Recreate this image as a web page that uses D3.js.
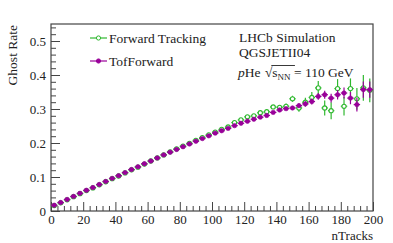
<!DOCTYPE html>
<html>
<head>
<meta charset="utf-8">
<script src="https://cdn.jsdelivr.net/npm/d3@7"></script>
<style>
  body { margin: 0; background: #fff; }
  text { font-family: "Liberation Serif", "DejaVu Serif", serif; fill: #222; }
</style>
</head>
<body>
<div id="chart"></div>
<script>
// bin centres (4 tracks wide)
const nTracks = d3.range(50).map(i => 2 + 4 * i);

const tofForward = [
  0.017, 0.025, 0.034, 0.043, 0.052, 0.061, 0.069, 0.078, 0.087, 0.096,
  0.104, 0.113, 0.122, 0.130, 0.139, 0.147, 0.156, 0.165, 0.173, 0.181,
  0.189, 0.197, 0.205, 0.213, 0.221, 0.229, 0.236, 0.243, 0.251, 0.258,
  0.264, 0.270, 0.276, 0.281, 0.290, 0.297, 0.301, 0.303, 0.310, 0.315,
  0.322, 0.337, 0.342, 0.332, 0.342, 0.347, 0.332, 0.313, 0.357, 0.357
];
const tofForwardErr = [
  0.002, 0.002, 0.002, 0.002, 0.002, 0.002, 0.002, 0.002, 0.002, 0.002,
  0.002, 0.002, 0.002, 0.002, 0.002, 0.002, 0.002, 0.002, 0.002, 0.002,
  0.002, 0.002, 0.002, 0.002, 0.002, 0.003, 0.003, 0.003, 0.003, 0.003,
  0.003, 0.003, 0.004, 0.004, 0.004, 0.005, 0.005, 0.006, 0.007, 0.008,
  0.009, 0.010, 0.012, 0.013, 0.014, 0.016, 0.018, 0.020, 0.024, 0.024
];

const forwardTracking = [
  0.016, 0.024, 0.033, 0.042, 0.051, 0.060, 0.068, 0.077, 0.086, 0.095,
  0.103, 0.112, 0.121, 0.129, 0.138, 0.147, 0.156, 0.165, 0.174, 0.183,
  0.191, 0.199, 0.208, 0.216, 0.224, 0.232, 0.240, 0.247, 0.260, 0.268,
  0.277, 0.280, 0.289, 0.292, 0.306, 0.305, 0.308, 0.330, 0.303, 0.320,
  0.334, 0.362, 0.303, 0.295, 0.360, 0.308, 0.360, 0.330, 0.362, 0.355
];
const forwardTrackingErr = [
  0.002, 0.002, 0.002, 0.002, 0.002, 0.002, 0.002, 0.002, 0.002, 0.002,
  0.002, 0.002, 0.002, 0.002, 0.002, 0.002, 0.002, 0.002, 0.002, 0.002,
  0.002, 0.002, 0.003, 0.003, 0.003, 0.003, 0.003, 0.004, 0.004, 0.004,
  0.004, 0.005, 0.005, 0.006, 0.006, 0.007, 0.008, 0.009, 0.011, 0.013,
  0.016, 0.020, 0.022, 0.025, 0.028, 0.027, 0.030, 0.032, 0.038, 0.035
];

const xTicks = [0, 20, 40, 60, 80, 100, 120, 140, 160, 180, 200];
const yTicks = [0, 0.1, 0.2, 0.3, 0.4, 0.5];

const series = [
  { name: "Forward Tracking", values: forwardTracking, err: forwardTrackingErr, color: "#2fb82f", open: true },
  { name: "TofForward", values: tofForward, err: tofForwardErr, color: "#990099", open: false }
];

const width = 393, height = 243;
const margin = { left: 51, right: 20, top: 24, bottom: 32 };
const svg = d3.select("#chart").append("svg").attr("width", width).attr("height", height);

const x = d3.scaleLinear().domain([0, 200]).range([margin.left, width - margin.right]);
const y = d3.scaleLinear().domain([0, 0.55]).range([height - margin.bottom, margin.top]);

// frame
svg.append("rect")
  .attr("x", x(0)).attr("y", y(0.55))
  .attr("width", x(200) - x(0)).attr("height", y(0) - y(0.55))
  .attr("fill", "none").attr("stroke", "#444").attr("stroke-width", 1.2);

// axes with inward ticks, ROOT style
const xMinor = d3.range(0, 201, 4).filter(v => v % 20 !== 0);
const yMinor = d3.range(0, 0.551, 0.02).filter(v => Math.abs(v * 10 - Math.round(v * 10)) > 1e-6);

const AxisX = svg.append("g").attr("transform", `translate(0,${y(0)})`);
AxisX.call(d3.axisBottom(x).tickValues(xTicks).tickSize(-9).tickPadding(4).tickFormat(d3.format("d")));
AxisX.append("g").call(d3.axisBottom(x).tickValues(xMinor).tickSize(-5).tickFormat(""));

const AxisY = svg.append("g").attr("transform", `translate(${x(0)},0)`);
AxisY.call(d3.axisLeft(y).tickValues(yTicks).tickSize(-9).tickPadding(5).tickFormat(d => d === 0 ? "0" : d3.format(".1f")(d)));
AxisY.append("g").call(d3.axisLeft(y).tickValues(yMinor).tickSize(-5).tickFormat(""));

svg.selectAll(".domain").remove();
svg.selectAll("g").attr("font-family", "'Liberation Serif', serif");
svg.selectAll(".tick line").attr("stroke", "#444").attr("stroke-width", 1);
svg.selectAll(".tick text")
  .style("font-family", "'Liberation Serif', serif")
  .style("font-size", "13px").attr("fill", "#222");

// axis titles
svg.append("text")
  .attr("x", x(200)).attr("y", 239.5)
  .attr("text-anchor", "end").style("font-size", "13px")
  .text("nTracks");
svg.append("text")
  .attr("transform", `translate(17,${margin.top + 1}) rotate(-90)`)
  .attr("text-anchor", "end").style("font-size", "13.5px")
  .text("Ghost Rate");

// data points with error bars
series.forEach(s => {
  const g = svg.append("g");
  const pts = nTracks.map((n, i) => ({ n, v: s.values[i], e: s.err[i] }));
  g.selectAll(".ey").data(pts).join("line")
    .attr("x1", d => x(d.n)).attr("x2", d => x(d.n))
    .attr("y1", d => y(d.v - d.e)).attr("y2", d => y(d.v + d.e))
    .attr("stroke", s.color).attr("stroke-width", 1.2);
  g.selectAll(".ex").data(pts).join("line")
    .attr("x1", d => x(d.n - 2)).attr("x2", d => x(d.n + 2))
    .attr("y1", d => y(d.v)).attr("y2", d => y(d.v))
    .attr("stroke", s.color).attr("stroke-width", 1.2);
  g.selectAll("circle").data(pts).join("circle")
    .attr("cx", d => x(d.n)).attr("cy", d => y(d.v))
    .attr("r", s.open ? 2.1 : 2.2)
    .attr("fill", s.open ? "#fff" : s.color)
    .attr("stroke", s.color).attr("stroke-width", s.open ? 1.1 : 0.6);
});

// legend
const legend = svg.append("g");
series.forEach((s, i) => {
  const ly = 38 + i * 23;
  legend.append("line").attr("x1", 90).attr("x2", 107).attr("y1", ly).attr("y2", ly)
    .attr("stroke", s.color).attr("stroke-width", 1.2);
  legend.append("circle").attr("cx", 98.5).attr("cy", ly).attr("r", 2.1)
    .attr("fill", s.open ? "#fff" : s.color).attr("stroke", s.color).attr("stroke-width", 1);
  legend.append("text").attr("x", 109).attr("y", ly + 5)
    .style("font-size", "13.5px").text(s.name);
});

// labels
svg.append("text").attr("x", 239).attr("y", 42).style("font-size", "13.5px").text("LHCb Simulation");
svg.append("text").attr("x", 239).attr("y", 57).style("font-size", "13.5px").text("QGSJETII04");

const lab = svg.append("text").attr("x", 238).attr("y", 77).style("font-size", "13.5px");
lab.append("tspan").style("font-style", "italic").text("p");
lab.append("tspan").text("He ");
lab.append("tspan").attr("dx", 1).text("\u221A");
lab.append("tspan").text("s");
lab.append("tspan").attr("dy", 3).style("font-size", "9px").text("NN");
lab.append("tspan").attr("dy", -3).text(" = 110 GeV");
// overline for the square root
const n = lab.node();
const sStart = n.getStartPositionOfChar(5).x;
const ovEnd = n.getEndPositionOfChar(8).x;
svg.append("line")
  .attr("x1", sStart - 1).attr("x2", ovEnd + 1)
  .attr("y1", 65.5).attr("y2", 65.5)
  .attr("stroke", "#222").attr("stroke-width", 0.9);
</script>
</body>
</html>
